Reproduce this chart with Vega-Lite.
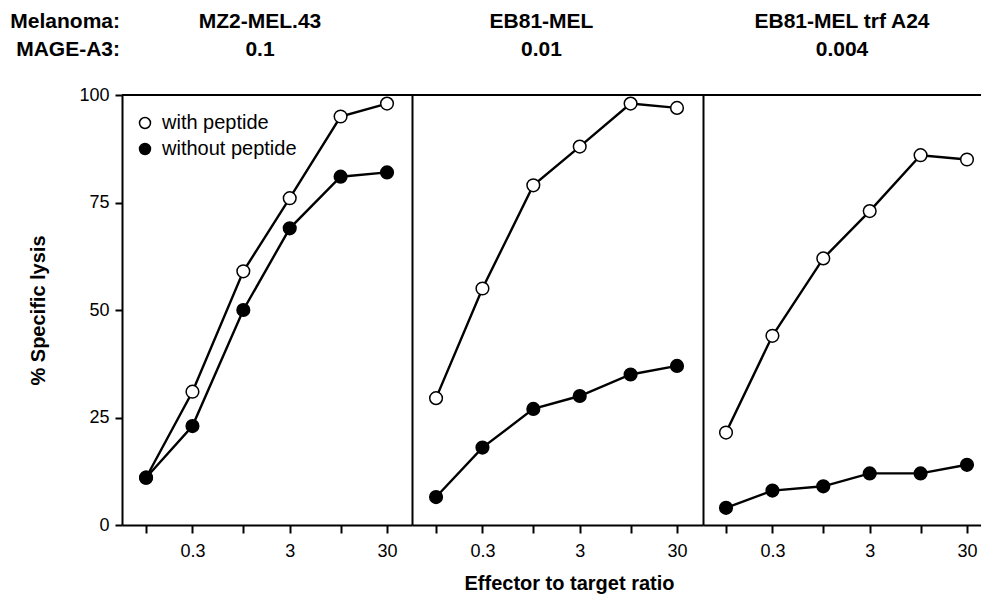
{
  "$schema": "https://vega.github.io/schema/vega-lite/v6.json",
  "padding": {"left": 10, "top": 11, "right": 0, "bottom": 4},
  "datasets": {
    "lysis": [
      {"panel": "A", "series": "with peptide", "ratio": 0.1, "lysis": 11},
      {"panel": "A", "series": "with peptide", "ratio": 0.3, "lysis": 31},
      {"panel": "A", "series": "with peptide", "ratio": 1, "lysis": 59},
      {"panel": "A", "series": "with peptide", "ratio": 3, "lysis": 76},
      {"panel": "A", "series": "with peptide", "ratio": 10, "lysis": 95},
      {"panel": "A", "series": "with peptide", "ratio": 30, "lysis": 98},
      {"panel": "A", "series": "without peptide", "ratio": 0.1, "lysis": 11},
      {"panel": "A", "series": "without peptide", "ratio": 0.3, "lysis": 23},
      {"panel": "A", "series": "without peptide", "ratio": 1, "lysis": 50},
      {"panel": "A", "series": "without peptide", "ratio": 3, "lysis": 69},
      {"panel": "A", "series": "without peptide", "ratio": 10, "lysis": 81},
      {"panel": "A", "series": "without peptide", "ratio": 30, "lysis": 82},
      {"panel": "B", "series": "with peptide", "ratio": 0.1, "lysis": 29.5},
      {"panel": "B", "series": "with peptide", "ratio": 0.3, "lysis": 55},
      {"panel": "B", "series": "with peptide", "ratio": 1, "lysis": 79},
      {"panel": "B", "series": "with peptide", "ratio": 3, "lysis": 88},
      {"panel": "B", "series": "with peptide", "ratio": 10, "lysis": 98},
      {"panel": "B", "series": "with peptide", "ratio": 30, "lysis": 97},
      {"panel": "B", "series": "without peptide", "ratio": 0.1, "lysis": 6.5},
      {"panel": "B", "series": "without peptide", "ratio": 0.3, "lysis": 18},
      {"panel": "B", "series": "without peptide", "ratio": 1, "lysis": 27},
      {"panel": "B", "series": "without peptide", "ratio": 3, "lysis": 30},
      {"panel": "B", "series": "without peptide", "ratio": 10, "lysis": 35},
      {"panel": "B", "series": "without peptide", "ratio": 30, "lysis": 37},
      {"panel": "C", "series": "with peptide", "ratio": 0.1, "lysis": 21.5},
      {"panel": "C", "series": "with peptide", "ratio": 0.3, "lysis": 44},
      {"panel": "C", "series": "with peptide", "ratio": 1, "lysis": 62},
      {"panel": "C", "series": "with peptide", "ratio": 3, "lysis": 73},
      {"panel": "C", "series": "with peptide", "ratio": 10, "lysis": 86},
      {"panel": "C", "series": "with peptide", "ratio": 30, "lysis": 85},
      {"panel": "C", "series": "without peptide", "ratio": 0.1, "lysis": 4},
      {"panel": "C", "series": "without peptide", "ratio": 0.3, "lysis": 8},
      {"panel": "C", "series": "without peptide", "ratio": 1, "lysis": 9},
      {"panel": "C", "series": "without peptide", "ratio": 3, "lysis": 12},
      {"panel": "C", "series": "without peptide", "ratio": 10, "lysis": 12},
      {"panel": "C", "series": "without peptide", "ratio": 30, "lysis": 14}
    ]
  },
  "title": {
    "text": ["Melanoma:", "MAGE-A3:"],
    "anchor": "start",
    "frame": "group",
    "align": "right",
    "dx": -2,
    "dy": 49,
    "offset": 0,
    "fontSize": 21,
    "fontWeight": "bold",
    "lineHeight": 28,
    "color": "black"
  },
  "spacing": 0,
  "bounds": "flush",
  "resolve": {"scale": {"fill": "independent", "x": "independent"}, "legend": {"fill": "independent"}},
  "hconcat": [
    {
      "width": 290,
      "height": 430,
      "title": {"text": ["MZ2-MEL.43", "0.1"], "dx": -7, "offset": 26},
      "data": {"name": "lysis"},
      "transform": [{"filter": "datum.panel == 'A'"}],
      "layer": [
        {
          "mark": {"type": "rule", "color": "black", "strokeWidth": 2},
          "encoding": {"y": {"datum": 100, "type": "quantitative"}}
        },
        {
          "mark": {"type": "line", "color": "black", "strokeWidth": 2.4},
          "encoding": {
            "x": {"field": "ratio", "type": "quantitative", "scale": {"type": "log", "domain": [0.0566, 54.2], "nice": false},
              "axis": {"values": [0.1, 0.3, 1, 3, 10, 30], "labelExpr": "datum.value == 0.3 ? '0.3' : datum.value == 3 ? '3' : datum.value == 30 ? '30' : ''", "title": null}},
            "y": {"field": "lysis", "type": "quantitative", "scale": {"domain": [0, 100], "nice": false},
              "axis": {"values": [0, 25, 50, 75, 100], "title": "% Specific lysis", "titlePadding": 30, "tickSize": 7, "labelPadding": 6}},
            "detail": {"field": "series"}
          }
        },
        {
          "mark": {"type": "point", "shape": "circle", "filled": true, "size": 160, "stroke": "black", "strokeWidth": 1.5, "opacity": 1},
          "encoding": {
            "x": {"field": "ratio", "type": "quantitative"},
            "y": {"field": "lysis", "type": "quantitative"},
            "fill": {"field": "series", "type": "nominal", "scale": {"domain": ["with peptide", "without peptide"], "range": ["white", "black"]},
              "legend": {"orient": "none", "legendX": 13, "legendY": 18, "title": null, "labelFontSize": 20, "labelOffset": 7, "symbolSize": 120, "symbolType": "circle", "symbolStrokeColor": "black", "symbolStrokeWidth": 1.5, "rowPadding": 6, "labelColor": "black"}}
          }
        }
      ]
    },
    {
      "width": 291,
      "height": 430,
      "title": {"text": ["EB81-MEL", "0.01"], "dx": -16},
      "data": {"name": "lysis"},
      "transform": [{"filter": "datum.panel == 'B'"}],
      "layer": [
        {
          "mark": {"type": "rule", "color": "black", "strokeWidth": 2},
          "encoding": {"y": {"datum": 100, "type": "quantitative"}}
        },
        {
          "mark": {"type": "line", "color": "black", "strokeWidth": 2.4},
          "encoding": {
            "x": {"field": "ratio", "type": "quantitative", "scale": {"type": "log", "domain": [0.0566, 55.5], "nice": false},
              "axis": {"values": [0.1, 0.3, 1, 3, 10, 30], "labelExpr": "datum.value == 0.3 ? '0.3' : datum.value == 3 ? '3' : datum.value == 30 ? '30' : ''", "title": "Effector to target ratio", "titleX": 157, "titlePadding": 13}},
            "y": {"field": "lysis", "type": "quantitative", "scale": {"domain": [0, 100], "nice": false},
              "axis": {"title": null, "labels": false, "ticks": false}},
            "detail": {"field": "series"}
          }
        },
        {
          "mark": {"type": "point", "shape": "circle", "filled": true, "size": 160, "stroke": "black", "strokeWidth": 1.5, "opacity": 1},
          "encoding": {
            "x": {"field": "ratio", "type": "quantitative"},
            "y": {"field": "lysis", "type": "quantitative"},
            "fill": {"field": "series", "type": "nominal", "scale": {"domain": ["with peptide", "without peptide"], "range": ["white", "black"]}, "legend": null}
          }
        }
      ]
    },
    {
      "width": 278,
      "height": 430,
      "title": {"text": ["EB81-MEL trf A24", "0.004"], "dx": 0},
      "data": {"name": "lysis"},
      "transform": [{"filter": "datum.panel == 'C'"}],
      "layer": [
        {
          "mark": {"type": "rule", "color": "black", "strokeWidth": 2},
          "encoding": {"y": {"datum": 100, "type": "quantitative"}}
        },
        {
          "mark": {"type": "line", "color": "black", "strokeWidth": 2.4},
          "encoding": {
            "x": {"field": "ratio", "type": "quantitative", "scale": {"type": "log", "domain": [0.058, 41.8], "nice": false},
              "axis": {"values": [0.1, 0.3, 1, 3, 10, 30], "labelExpr": "datum.value == 0.3 ? '0.3' : datum.value == 3 ? '3' : datum.value == 30 ? '30' : ''", "title": null}},
            "y": {"field": "lysis", "type": "quantitative", "scale": {"domain": [0, 100], "nice": false},
              "axis": {"title": null, "labels": false, "ticks": false}},
            "detail": {"field": "series"}
          }
        },
        {
          "mark": {"type": "point", "shape": "circle", "filled": true, "size": 160, "stroke": "black", "strokeWidth": 1.5, "opacity": 1},
          "encoding": {
            "x": {"field": "ratio", "type": "quantitative"},
            "y": {"field": "lysis", "type": "quantitative"},
            "fill": {"field": "series", "type": "nominal", "scale": {"domain": ["with peptide", "without peptide"], "range": ["white", "black"]}, "legend": null}
          }
        }
      ]
    }
  ],
  "config": {
    "font": "Liberation Sans",
    "view": {"stroke": null},
    "title": {"fontSize": 21, "fontWeight": "bold", "lineHeight": 28, "offset": 34, "color": "black", "anchor": "middle"},
    "axis": {
      "grid": false,
      "domainColor": "black",
      "domainWidth": 2,
      "tickColor": "black",
      "tickWidth": 2,
      "tickSize": 8,
      "labelColor": "black",
      "labelFontSize": 18,
      "labelPadding": 9,
      "titleColor": "black",
      "titleFontSize": 20,
      "titleFontWeight": "bold"
    }
  }
}
